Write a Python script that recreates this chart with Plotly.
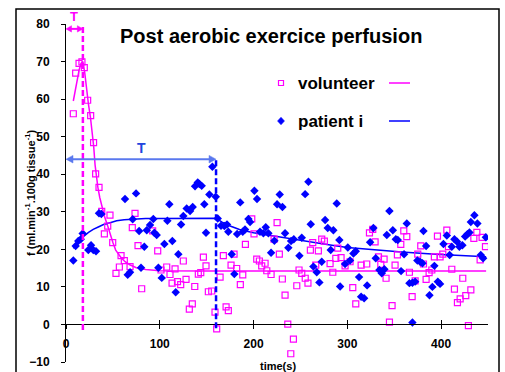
import plotly.graph_objects as go

# ---------------- data ----------------
vol_x = [7.8, 10.3, 13.9, 17.0, 19.5, 23.1, 26.3, 29.4, 31.6, 35.2, 38.1, 40.9, 44.5, 46.9, 49.8,
         53.3, 56.9, 58.7, 62.2, 68.3, 70.7, 73.6, 76.8, 80.7, 92.4, 97.8, 101.3, 107.4, 110.9, 113.1,
         116.3, 118.9, 122.3, 125.1, 128.0, 131.5, 134.7, 137.3, 141.1, 143.7, 146.5, 149.3, 151.8, 155.4,
         158.9, 160.7, 164.3, 167.8, 170.7, 173.1, 176.0, 179.2, 182.0, 185.9, 188.5, 191.3, 198.1, 200.5,
         203.4, 206.2, 208.7, 212.3, 214.1, 218.7, 221.9, 225.1, 227.5, 230.7, 233.6, 236.5, 239.7, 242.5,
         246.1, 248.5, 251.4, 255.1, 258.0, 260.6, 263.1, 266.3, 269.1, 272.7, 275.5, 281.6, 284.5, 287.7,
         289.8, 293.3, 297.6, 302.9, 305.8, 309.0, 314.7, 320.7, 323.6, 327.1, 329.6, 333.2, 335.7, 339.2,
         341.3, 344.9, 347.7, 350.9, 353.4, 357.0, 360.2, 363.4, 366.2, 369.1, 372.3, 375.1, 378.3, 381.2,
         384.0, 387.2, 390.1, 392.8, 396.1, 398.9, 401.8, 406.1, 407.8, 411.4, 414.2, 417.4, 420.3, 423.1,
         426.3, 429.1, 431.7, 434.9, 438.1, 441.6, 443.7, 447.3]
vol_y = [56.1, 66.9, 69.5, 69.9, 68.4, 59.7, 55.6, 48.4, 40.1, 36.5, 30.1, 24.1, 26.2, 29.1, 21.8,
         13.6, 15.3, 18.3, 17.0, 15.4, 25.8, 29.6, 21.0, 9.5, 24.9, 19.6, 14.5, 15.3, 13.3, 11.0,
         14.8, 11.4, 10.6, 16.9, 12.0, 4.1, 5.5, 10.1, 13.4, 13.8, 17.9, 15.6, 8.7, 8.9,
         3.3, -1.2, 12.6, 18.3, 4.7, 3.7, 15.8, 18.7, 14.9, 10.6, 13.2, 21.3, 28.1, 24.1,
         17.4, 16.9, 15.6, 16.3, 14.3, 13.3, 22.7, 27.1, 18.7, 12.1, 7.8, 0.1, -7.8, -3.9,
         10.3, 14.5, 13.6, 12.3, 11.0, 19.8, 21.8, 15.8, 19.6, 22.7, 22.2, 16.2, 13.9, 17.6,
         20.3, 17.8, 15.6, 16.7, 9.8, 5.5, 15.8, 16.1, 24.4, 25.3, 22.0, 18.0, 16.0, 17.4,
         12.3, 0.6, 5.0, 15.8, 18.5, 21.3, 24.9, 23.4, 13.9, 7.4, 11.6, 18.7, 20.9, 16.1,
         12.0, 13.8, 14.5, 18.0, 23.5, 18.0, 18.7, 25.1, 20.7, 14.7, 9.4, 5.8, 6.8, 12.3,
         7.7, -0.3, 9.2, 22.9, 24.5, 17.2, 23.2, 20.7]

pat_x = [7.8, 10.3, 13.1, 15.7, 17.8, 23.8, 26.7, 29.1, 32.0, 35.2, 37.7, 62.9, 65.8, 68.3, 71.1,
         74.7, 78.0, 80.0, 83.5, 86.1, 89.6, 93.1, 94.2, 96.7, 98.5, 102.1, 104.9, 108.1, 110.2, 113.4,
         117.0, 119.8, 122.7, 125.1, 128.7, 132.3, 135.1, 137.6, 140.5, 142.2, 144.7, 147.5, 149.3, 152.9,
         156.1, 159.7, 161.8, 165.3, 168.9, 171.7, 173.1, 176.7, 179.5, 182.5, 185.8, 188.5, 190.9, 194.5,
         196.3, 200.9, 203.7, 206.9, 210.5, 213.0, 215.8, 218.7, 222.2, 225.1, 227.9, 230.8, 233.6, 237.1,
         240.0, 242.9, 248.9, 251.4, 255.0, 258.5, 261.0, 263.8, 267.4, 270.2, 272.7, 276.3, 279.1, 282.3,
         285.1, 288.7, 291.5, 292.3, 297.6, 300.5, 302.9, 306.5, 309.0, 312.5, 314.7, 317.9, 321.1, 324.3,
         327.8, 330.3, 334.2, 336.7, 339.5, 342.1, 344.9, 348.5, 351.7, 353.8, 357.3, 360.5, 363.4, 366.2,
         369.4, 369.4, 372.3, 374.7, 377.6, 380.1, 381.2, 384.0, 387.6, 390.7, 392.8, 396.5, 398.9, 402.5,
         406.1, 409.1, 411.4, 414.2, 417.1, 419.5, 422.7, 425.6, 428.0, 430.2, 431.7, 435.5, 438.7, 442.3,
         444.8, 447.7]
pat_y = [17.0, 20.9, 22.2, 22.7, 24.2, 19.8, 21.1, 19.8, 19.5, 29.6, 29.4, 33.4, 13.2, 13.9, 28.0,
         34.9, 24.9, 15.1, 20.7, 25.1, 26.5, 28.1, 24.4, 23.8, 15.1, 12.4, 21.4, 27.6, 32.0, 22.2,
         8.6, 18.7, 26.6, 28.9, 30.9, 30.2, 31.3, 36.8, 37.8, 37.4, 36.9, 32.0, 24.4, 34.6,
         42.0, 34.0, 28.2, 26.3, 26.2, 26.6, 24.7, 18.7, 13.4, 24.1, 32.5, 24.7, 25.3, 28.1,
         27.3, 35.6, 33.4, 24.7, 24.3, 25.9, 24.3, 19.1, 22.3, 32.0, 34.6, 31.3, 24.3, 20.4,
         22.2, 22.7, 18.3, 23.1, 34.7, 38.0, 26.7, 15.4, 13.9, 11.2, 16.7, 27.8, 25.7, 19.8,
         25.1, 32.2, 22.5, 10.1, 16.1, 20.5, 17.0, 18.9, 19.5, 12.6, 7.4, 7.0, 10.4, 21.9,
         25.7, 17.6, 14.5, 13.6, 14.7, 23.8, 30.2, 25.1, 22.7, 22.5, 14.2, 18.7, 26.9, 11.0,
         11.1, 0.5, 11.4, 17.0, 16.7, 16.3, 24.9, 20.9, 7.8, 10.0, 15.6, 11.4, 10.8, 21.4,
         23.7, 18.5, 20.7, 22.7, 22.0, 20.7, 21.1, 23.4, 24.0, 24.5, 27.3, 29.1, 26.9, 18.5,
         17.6, 23.2]

vol_fit_x = [7.8, 10, 12, 14, 16, 18, 20, 22, 24, 26, 28, 29.5, 31, 32.5, 34, 36, 38, 41, 44.5, 47,
             50, 53, 56, 59, 63, 68, 75, 85, 100, 150, 250, 350, 448]
vol_fit_y = [59.5, 62.5, 65.3, 67.8, 69.5, 70.0, 67.0, 62.5, 58.5, 55.3, 51.5, 47.5, 42.5, 39.0, 36.5,
             33.8, 31.5, 28.8, 26.2, 24.0, 21.8, 19.8, 18.6, 17.7, 16.7, 15.9, 15.1, 14.6, 14.3, 14.2,
             14.2, 14.2, 14.2]

pat_fit_x = [7.8, 10, 14, 18.5, 24, 29, 35, 40, 47, 54, 62, 72, 85, 100, 130, 160, 166, 175, 185,
             200, 220, 244, 262, 280, 300, 322, 358, 394, 448]
pat_fit_y = [20.3, 20.9, 22.2, 23.4, 24.5, 25.3, 26.0, 26.6, 27.1, 27.6, 27.9, 28.1, 28.2, 28.2,
             28.2, 28.3, 27.3, 26.2, 25.3, 24.4, 23.6, 22.6, 21.8, 21.2, 20.5, 20.0, 19.3, 18.7, 18.0]

T_volunteer = 18     # s
T_patient = 160      # s
T_vol_arrow_y = 78.7
T_pat_arrow_y = 44

x_ticks = [0, 100, 200, 300, 400]
y_ticks = list(range(-10, 81, 10))

title_text = "Post aerobic exercice perfusion"
x_title = "time(s)"
y_title = "f (ml.min<sup>-1</sup>.100g tissue<sup>-1</sup>)"

# ---------------- styles ----------------
MAG = "#FF00FF"
BLU = "#0000FF"
ARROW_BLU = "#5a78ee"
FONT = "Liberation Sans, Arial, sans-serif"

W, H = 505, 372
ML, MR, MT, MB = 66, 17, 24, 10
PW, PH = W - ML - MR, H - MT - MB
XR = [0, 450]
YR = [-10, 80]
UX = (XR[1] - XR[0]) / PW    # data units per pixel
UY = (YR[1] - YR[0]) / PH


def px(xp):
    return (xp - ML) / PW


def py(yp):
    return (H - MB - yp) / PH


fig = go.Figure()

fig.add_trace(go.Scatter(x=vol_fit_x, y=vol_fit_y, mode="lines",
                         line=dict(color=MAG, width=1.5), showlegend=False, hoverinfo="skip"))
fig.add_trace(go.Scatter(x=pat_fit_x, y=pat_fit_y, mode="lines",
                         line=dict(color=BLU, width=1.5), showlegend=False, hoverinfo="skip"))
fig.add_trace(go.Scatter(x=vol_x, y=vol_y, mode="markers", name="volunteer",
                         marker=dict(symbol="square-open", size=6, color=MAG, line=dict(width=1.2, color=MAG)),
                         showlegend=False))
fig.add_trace(go.Scatter(x=pat_x, y=pat_y, mode="markers", name="patient i",
                         marker=dict(symbol="diamond", size=6.5, color=BLU, line=dict(width=0)),
                         showlegend=False))
# helper trace for the inner half of the crossing x ticks
fig.add_trace(go.Scatter(x=[], y=[], xaxis="x2", showlegend=False))

y0_frac = (0 - YR[0]) / (YR[1] - YR[0])
tickfont = dict(family=FONT, size=12, color="black", weight="bold")

fig.update_layout(
    width=W, height=H,
    margin=dict(l=ML, r=MR, t=MT, b=MB, autoexpand=False),
    paper_bgcolor="white", plot_bgcolor="white",
    xaxis=dict(range=XR, tickvals=x_ticks, anchor="free", position=y0_frac,
               showline=True, linecolor="black", linewidth=1, ticks="outside", ticklen=4,
               tickcolor="black", tickwidth=1, showgrid=False, zeroline=False,
               tickfont=tickfont, ticklabelstandoff=4, automargin=False),
    xaxis2=dict(range=XR, tickvals=x_ticks, overlaying="x", anchor="free", position=y0_frac,
                showline=False, ticks="inside", ticklen=4, tickcolor="black", tickwidth=1,
                showticklabels=False, showgrid=False, zeroline=False),
    yaxis=dict(range=YR, tickvals=y_ticks, showline=True, linecolor="black", linewidth=1,
               ticks="outside", ticklen=4, tickcolor="black", showgrid=False, zeroline=False,
               tickfont=tickfont, ticklabelstandoff=9, automargin=False),
    showlegend=False,
)

# outer frame
fig.add_shape(type="rect", xref="paper", yref="paper", x0=px(16), x1=px(499), y0=py(385), y1=py(9),
              line=dict(color="black", width=1.5), layer="below")

# T dashed lines
fig.add_shape(type="line", xref="x", yref="y", x0=T_volunteer, x1=T_volunteer, y0=-1.5, y1=79.3,
              line=dict(color=MAG, width=2.5, dash="6px,3px"))
fig.add_shape(type="line", xref="x", yref="y", x0=T_patient, x1=T_patient, y0=-1.0, y1=T_pat_arrow_y,
              line=dict(color=BLU, width=2.5, dash="6px,3px"))


def double_arrow(x0, x1, y, col, head_len=6, head_half=3.5, width=2):
    hl, hh = head_len * UX, head_half * UY
    fig.add_shape(type="line", xref="x", yref="y", x0=x0 + hl * 0.8, x1=x1 - hl * 0.8, y0=y, y1=y,
                  line=dict(color=col, width=width))
    left = "M {} {} L {} {} L {} {} Z".format(x0, y, x0 + hl, y + hh, x0 + hl, y - hh)
    right = "M {} {} L {} {} L {} {} Z".format(x1, y, x1 - hl, y + hh, x1 - hl, y - hh)
    for p in (left, right):
        fig.add_shape(type="path", xref="x", yref="y", path=p, fillcolor=col,
                      line=dict(color=col, width=0.5))


double_arrow(0, T_volunteer, T_vol_arrow_y, MAG, head_len=5.5, head_half=3.2)
double_arrow(0, T_patient, T_pat_arrow_y, ARROW_BLU, head_len=7, head_half=3.8)

fig.add_annotation(x=T_volunteer / 2, y=T_vol_arrow_y, xref="x", yref="y", yshift=12,
                   text="<b>T</b>", showarrow=False, font=dict(family=FONT, size=13, color=MAG))
fig.add_annotation(x=T_patient / 2, y=T_pat_arrow_y, xref="x", yref="y", yshift=11,
                   text="<b>T</b>", showarrow=False, font=dict(family=FONT, size=14, color="#2244dd"))

# title
fig.add_annotation(x=px(271), y=py(36), xref="paper", yref="paper", xanchor="center", yanchor="middle",
                   text="<b>" + title_text + "</b>", showarrow=False,
                   font=dict(family=FONT, size=20, color="black"))

# axis titles
fig.add_annotation(x=px(30), y=0.5, xref="paper", yref="paper", textangle=-90,
                   xanchor="center", yanchor="middle", text="<b>" + y_title + "</b>", showarrow=False,
                   font=dict(family=FONT, size=11, color="black"))
fig.add_annotation(x=px(278), y=py(366), xref="paper", yref="paper", xanchor="center", yanchor="middle",
                   text="<b>" + x_title + "</b>", showarrow=False,
                   font=dict(family=FONT, size=11, color="black"))

# legend (drawn manually: marker, label, line sample)
leg_rows = [("volunteer", MAG, 83, "square"), ("patient i", BLU, 121, "diamond")]
for label, col, yp, sym in leg_rows:
    if sym == "square":
        fig.add_shape(type="rect", xref="paper", yref="paper", x0=px(278.5), x1=px(283.5),
                      y0=py(85.5), y1=py(80.5), line=dict(color=col, width=1.2))
    else:
        cx, cy = 281, yp
        path = "M {} {} L {} {} L {} {} L {} {} Z".format(
            px(cx - 3.5), py(cy), px(cx), py(cy - 3.8), px(cx + 3.5), py(cy), px(cx), py(cy + 3.8))
        fig.add_shape(type="path", xref="paper", yref="paper", path=path,
                      fillcolor=col, line=dict(color=col, width=0.5))
    fig.add_annotation(x=px(296), y=py(yp), xref="paper", yref="paper", xanchor="left", yanchor="middle",
                       text="<b>" + label + "</b>", showarrow=False,
                       font=dict(family=FONT, size=17, color="black"))
    fig.add_shape(type="line", xref="paper", yref="paper", x0=px(389), x1=px(410), y0=py(yp), y1=py(yp),
                  line=dict(color=col, width=1.5))

fig.write_html("out.html", config={"displayModeBar": False},
               post_script="document.body.style.margin='0';document.body.style.overflow='hidden';")
